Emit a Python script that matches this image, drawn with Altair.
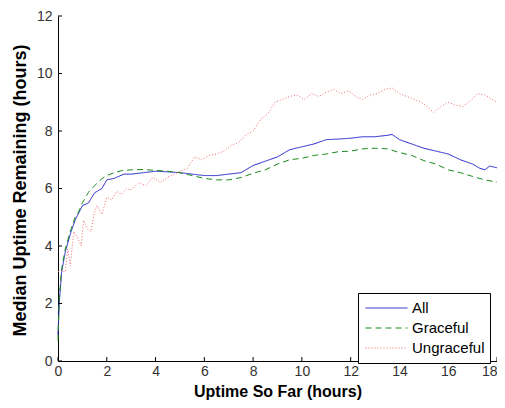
import altair as alt
import pandas as pd

# ---- data ----
all_x = [0, 0.05, 0.15, 0.3, 0.5, 0.7, 1.0, 1.25, 1.5, 1.8, 2.0, 2.3, 2.7, 3.0, 3.5, 4.0, 4.5,
         5.0, 5.5, 6.0, 6.5, 7.0, 7.5, 8.0, 8.5, 9.0, 9.5, 10.0, 10.5, 11.0, 11.5, 12.0, 12.5,
         13.0, 13.5, 13.7, 14.0, 14.5, 15.0, 15.5, 16.0, 16.5, 17.0, 17.3, 17.5, 17.7, 18.0]
all_y = [0.9, 2.0, 3.1, 3.8, 4.4, 4.9, 5.4, 5.5, 5.85, 6.0, 6.3, 6.35, 6.5, 6.5, 6.55, 6.6, 6.58,
         6.55, 6.5, 6.45, 6.45, 6.5, 6.55, 6.8, 6.95, 7.1, 7.35, 7.45, 7.55, 7.7, 7.72, 7.75, 7.8,
         7.8, 7.85, 7.88, 7.7, 7.55, 7.4, 7.3, 7.2, 7.0, 6.85, 6.7, 6.65, 6.78, 6.72]

grace_x = [0, 0.05, 0.15, 0.3, 0.5, 0.7, 0.85, 1.0, 1.25, 1.5, 1.8, 2.0, 2.3, 2.6, 3.0, 3.5, 4.0,
           4.5, 5.0, 5.5, 6.0, 6.5, 7.0, 7.5, 8.0, 8.5, 9.0, 9.5, 10.0, 10.5, 11.0, 11.5, 12.0,
           12.5, 13.0, 13.5, 14.0, 14.5, 15.0, 15.5, 16.0, 16.5, 17.0, 17.5, 18.0]
grace_y = [0.7, 2.2, 3.2, 3.9, 4.5, 5.0, 5.2, 5.5, 5.87, 6.1, 6.34, 6.45, 6.55, 6.62, 6.65, 6.66,
           6.63, 6.6, 6.55, 6.45, 6.35, 6.3, 6.3, 6.38, 6.53, 6.65, 6.85, 7.0, 7.05, 7.15, 7.2,
           7.28, 7.3, 7.38, 7.4, 7.38, 7.25, 7.15, 6.97, 6.85, 6.65, 6.55, 6.42, 6.3, 6.22]

ungr_x = [0.0, 0.1, 0.3, 0.4, 0.5, 0.65, 0.8, 0.95, 1.05, 1.2, 1.35, 1.5, 1.6, 1.8, 2.0, 2.2, 2.4,
          2.6, 2.8, 3.0, 3.3, 3.6, 3.9, 4.2, 4.5, 4.8, 5.0, 5.3, 5.6, 5.9, 6.2, 6.5, 6.8, 7.1,
          7.4, 7.7, 8.0, 8.3, 8.6, 8.9, 9.2, 9.5, 9.8, 10.1, 10.4, 10.7, 11.0, 11.3, 11.6, 11.9,
          12.2, 12.5, 12.8, 13.1, 13.4, 13.7, 14.0, 14.3, 14.6, 14.9, 15.2, 15.4, 15.7, 16.0,
          16.3, 16.6, 16.9, 17.2, 17.5, 17.8, 18.0]
ungr_y = [3.1, 3.15, 3.1, 3.9, 3.3, 4.5, 4.3, 4.0, 4.9, 4.6, 4.5, 5.2, 5.4, 5.1, 5.7, 5.6, 5.9,
          5.8, 6.0, 5.95, 6.2, 6.1, 6.4, 6.2, 6.4, 6.5, 6.6, 6.7, 7.1, 7.0, 7.15, 7.2, 7.3, 7.5,
          7.6, 7.85, 8.0, 8.4, 8.6, 9.0, 9.1, 9.2, 9.25, 9.1, 9.3, 9.2, 9.35, 9.45, 9.3, 9.4,
          9.2, 9.1, 9.25, 9.3, 9.45, 9.5, 9.3, 9.2, 9.1, 9.0, 8.8, 8.65, 8.85, 9.0, 8.9, 8.85,
          9.05, 9.3, 9.25, 9.1, 9.0]

series_names = ["All", "Graceful", "Ungraceful"]
series_colors = ["#2222cc", "#1a8a1a", "#f06a6a"]
x_ticks = [0, 2, 4, 6, 8, 10, 12, 14, 16, 18]
y_ticks = [0, 2, 4, 6, 8, 10, 12]

rows = []
for name, xs, ys in [("All", all_x, all_y), ("Graceful", grace_x, grace_y), ("Ungraceful", ungr_x, ungr_y)]:
    for i, (a, b) in enumerate(zip(xs, ys)):
        rows.append({"series": name, "x": a, "y": b, "order": i})
df = pd.DataFrame(rows)

FONT = "Liberation Sans"
W, H = 439, 345
TOP = 8

xscale = alt.Scale(domain=[0, 18], nice=False, zero=False)
yscale = alt.Scale(domain=[0, 12], nice=False)

legend = alt.Legend(
    title=None, orient="none", legendX=300, legendY=277,
    strokeColor="black", fillColor="white", padding=5,
    symbolType="stroke", symbolSize=1764, symbolStrokeWidth=1,
    symbolOffset=2, clipHeight=20, rowPadding=0,
    labelFont=FONT, labelFontSize=15, labelColor="black", labelOffset=4,
)

lines = alt.Chart(df).mark_line(strokeWidth=1).encode(
    x=alt.X("x:Q", scale=xscale,
            axis=alt.Axis(values=x_ticks, title="Uptime So Far (hours)", grid=False,
                          ticks=False, labelPadding=3, titleY=35, titleBaseline="alphabetic",
                          titleFontSize=16,
                          labelAlign={"condition": {"test": "datum.value == 18", "value": "right"},
                                      "value": "center"})),
    y=alt.Y("y:Q", scale=yscale,
            axis=alt.Axis(values=y_ticks, title="Median Uptime Remaining (hours)", grid=False,
                          ticks=False, labelPadding=6, titleX=-33, titleY=174,
                          titleFontSize=18, titleBaseline="alphabetic")),
    color=alt.Color("series:N", scale=alt.Scale(domain=series_names, range=series_colors), legend=legend),
    strokeDash=alt.StrokeDash("series:N",
                              scale=alt.Scale(domain=series_names, range=[[1, 0], [6, 4], [1, 2]]),
                              legend=legend),
    order="order:Q",
)

xt = alt.Chart(pd.DataFrame({"t": x_ticks})).mark_rule(color="black", strokeWidth=1).encode(
    x=alt.X("t:Q", scale=xscale), y=alt.value(H), y2=alt.value(H - 4))
yt = alt.Chart(pd.DataFrame({"t": y_ticks})).mark_rule(color="black", strokeWidth=1).encode(
    y=alt.Y("t:Q", scale=yscale), x=alt.value(0), x2=alt.value(4))

chart = alt.layer(lines, xt, yt).properties(
    width=W, height=H,
    autosize=alt.AutoSizeParams(type="none"),
    padding={"left": 50, "top": TOP, "right": 0, "bottom": 392 - TOP - H},
).configure_view(stroke=None).configure_axis(
    domainColor="black", domainWidth=1,
    labelFont=FONT, labelFontSize=14, labelColor="#333333",
    titleFont=FONT, titleFontWeight="bold", titleColor="black",
)

chart.save("out.html", embed_options={"renderer": "svg", "actions": False})
